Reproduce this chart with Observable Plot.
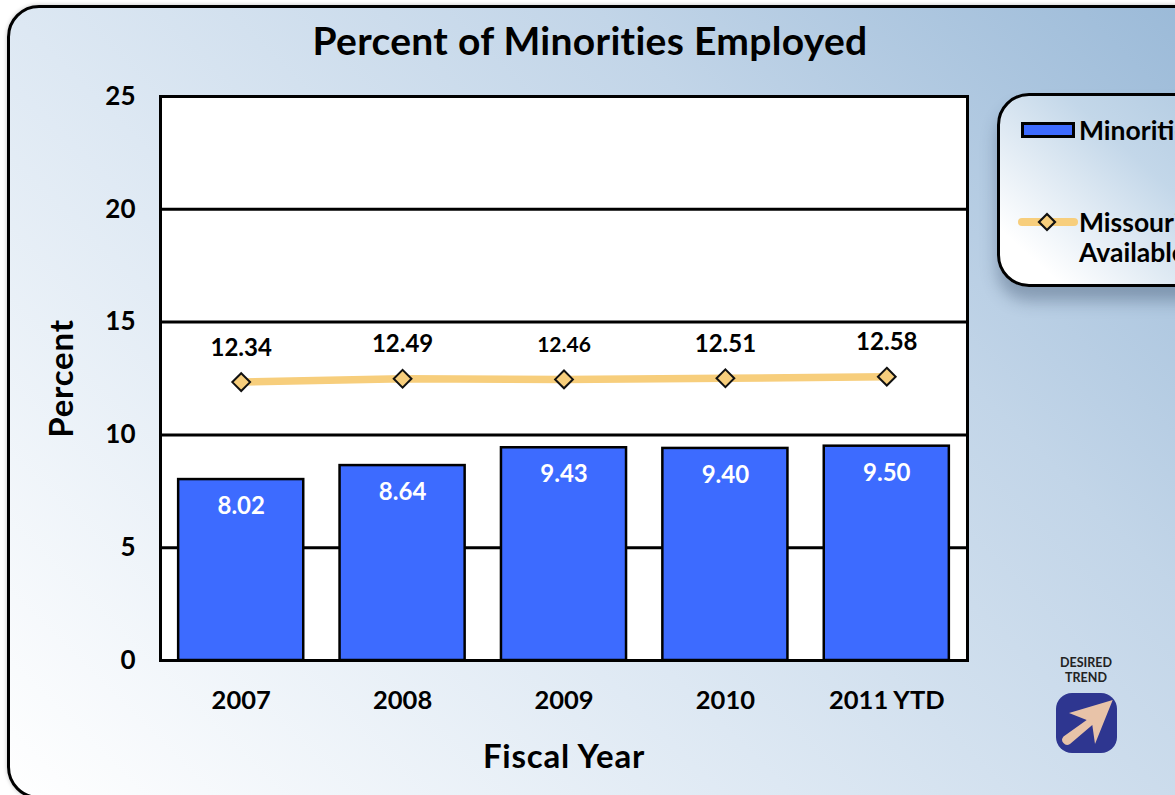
<!DOCTYPE html>
<html><head><meta charset="utf-8">
<script src="https://cdn.jsdelivr.net/npm/d3@7"></script>
<script src="https://cdn.jsdelivr.net/npm/@observablehq/plot@0.6"></script>
<style>
html,body{margin:0;padding:0;width:1175px;height:795px;overflow:hidden;background:#fff;}
body{font-family:Lato,sans-serif;font-weight:700;color:#000;position:relative;}
#card{position:absolute;left:7px;top:5px;width:1300px;height:794px;box-sizing:border-box;border:3px solid #000;border-radius:32px;
 background:linear-gradient(225deg,#9bbad8 0%,#c2d5e8 30%,#dde8f3 60%,#ffffff 100%);box-shadow:0 0 4px rgba(0,0,0,.25);
 background-size:1175px 794px;background-repeat:no-repeat;}
#title{position:absolute;left:0;width:1180px;top:16px;text-align:center;font-size:39px;letter-spacing:.3px;line-height:48px;}
#chart{position:absolute;left:0;top:0;}
#legend{position:absolute;left:997px;top:93px;width:300px;height:194px;box-sizing:border-box;border:3px solid #000;border-radius:32px;
 background:linear-gradient(222deg,#a9c4de 0%,#c3d7e9 45%,#ffffff 88%);box-shadow:0 14px 16px rgba(40,60,90,.35);}
.lt{position:absolute;left:1079px;font-size:26.5px;line-height:30px;white-space:nowrap;}
#swatch{position:absolute;left:1021px;top:122px;width:54px;height:16px;box-sizing:border-box;border:3px solid #000;background:#3d6bff;}
#trend{position:absolute;left:1036px;top:655px;width:100px;text-align:center;font-size:12.5px;line-height:15px;color:#222;}
#keyline,#icon{position:absolute;}
</style></head><body>
<div id="card"></div>
<div id="title">Percent of Minorities Employed</div>
<div id="chart"></div>
<div id="legend"></div>
<div id="swatch"></div>
<div class="lt" style="top:115px">Minorities Employed</div>
<svg id="keyline" style="left:1015px;top:208px" width="64" height="28" viewBox="0 0 64 28">
 <line x1="7" y1="14" x2="59" y2="14" stroke="#f7ce7c" stroke-width="8" stroke-linecap="round"/>
 <path d="M32 6 L40 14 L32 22 L24 14 Z" fill="#f7ce7c" stroke="#111" stroke-width="2.2"/>
</svg>
<div class="lt" style="top:207px">Missouri<br>Available Labor</div>
<div id="trend">DESIRED<br>TREND</div>
<svg id="icon" style="left:1055px;top:692px" width="63" height="63" viewBox="0 0 63 63">
 <rect x="1" y="1" width="61" height="60" rx="16" fill="#2e3690"/>
 <path d="M57.7 8 L14 21 L31.7 28 L8.5 44.5 A5 5 0 0 0 15 52 L37.3 33 L40 52 Z" fill="#e8c3a8"/>
</svg>
<script>
const years = ["2007","2008","2009","2010","2011 YTD"];
const minorities = [8.02,8.64,9.43,9.40,9.50];
const availability = [12.34,12.49,12.46,12.51,12.58];
const yTicks = [0,5,10,15,20,25];
const barRows = years.map((y,i)=>({year:y,value:minorities[i]}));
const lineRows = years.map((y,i)=>({year:y,value:availability[i]}));
const font = "Lato, sans-serif";
const plot = Plot.plot({
  width:1175,height:795,
  marginLeft:160,marginRight:208,marginTop:96,marginBottom:135,
  style:{background:"transparent",fontFamily:font,fontWeight:700,color:"#000",overflow:"visible"},
  x:{type:"band",domain:years,paddingInner:0.225,paddingOuter:0.1125,round:false,label:null},
  y:{domain:[0,25],label:null},
  marks:[
    Plot.frame({fill:"#fff",stroke:"none"}),
    Plot.ruleY(yTicks,{stroke:"#000",strokeWidth:3}),
    Plot.barY(barRows,{x:"year",y:"value",fill:"#3d6bff",stroke:"#000",strokeWidth:2.5}),
    Plot.frame({stroke:"#000",strokeWidth:3,fill:"none"}),
    Plot.line(lineRows,{x:"year",y:"value",stroke:"#f7ce7c",strokeWidth:7.5,curve:"linear"}),
    Plot.dot(lineRows,{x:"year",y:"value",symbol:"diamond2",r:8,fill:"#f7ce7c",stroke:"#111",strokeWidth:2}),
    Plot.text(lineRows,{x:"year",y:"value",text:d=>d.value.toFixed(2),dy:-34,fontSize:d=>d.value===12.46?21:24,fill:"#000"}),
    Plot.text(barRows,{x:"year",y:"value",text:d=>d.value.toFixed(2),dy:27,fontSize:24,fill:"#fff"}),
    Plot.axisX({anchor:"bottom",tickSize:0,tickPadding:30,fontSize:25.5,label:null}),
    Plot.axisY({anchor:"left",ticks:yTicks,tickSize:0,tickPadding:25,fontSize:26,label:null}),
    Plot.text(["Percent"],{frameAnchor:"left",textAnchor:"middle",rotate:-90,dx:-98,fontSize:33,fill:"#000"}),
    Plot.text(["Fiscal Year"],{frameAnchor:"bottom",dy:107,fontSize:33,fill:"#000"})
  ]
});
plot.querySelectorAll("text").forEach(t=>{ if(t.textContent==="Percent"||t.textContent==="Fiscal Year") t.style.letterSpacing="0.8px"; });
document.getElementById("chart").appendChild(plot);
</script>
</body></html>
